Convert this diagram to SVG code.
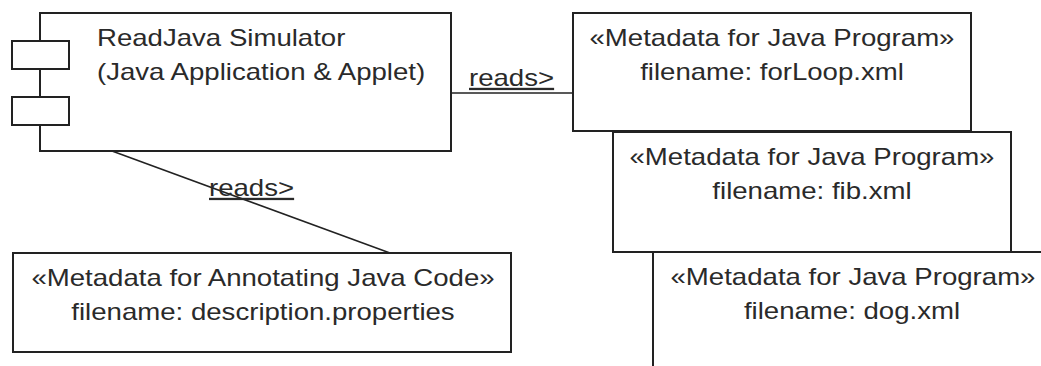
<svg xmlns="http://www.w3.org/2000/svg" width="1041" height="366" viewBox="0 0 1041 366">
<style>
.box{fill:#fff;stroke:#222;stroke-width:2}
.conn{stroke:#222;stroke-width:1.5;fill:none}
.t{font-family:"Liberation Sans",Arial,sans-serif;font-size:23px;fill:#2a2a2a}
.c{text-anchor:middle}
.u{text-decoration:underline}
</style>
<rect width="1041" height="366" fill="#fff"/>
<g id="connectors">
<line class="conn" x1="451" y1="93" x2="573" y2="93"/>
<line class="conn" x1="112" y1="151" x2="390" y2="253"/>
<text class="t u" transform="translate(469,86) scale(1.2,1)">reads&gt;</text>
<text class="t u" transform="translate(209,196) scale(1.2,1)">reads&gt;</text>
</g>
<g id="simulator">
<rect class="box" x="40" y="13" width="411" height="138"/>
<rect class="box" x="12" y="41" width="57" height="28"/>
<rect class="box" x="12" y="97" width="57" height="28"/>
<text class="t" transform="translate(97,46) scale(1.2,1)">ReadJava Simulator</text>
<text class="t" transform="translate(97,80) scale(1.2,1)">(Java Application &amp; Applet)</text>
</g>
<g id="annotation">
<rect class="box" x="13" y="253" width="498" height="99"/>
<text class="t c" transform="translate(263,286) scale(1.2,1)">«Metadata for Annotating Java Code»</text>
<text class="t c" transform="translate(263,320) scale(1.2,1)">filename: description.properties</text>
</g>
<g id="forloop">
<rect class="box" x="573" y="13" width="398" height="118"/>
<text class="t c" transform="translate(772,46) scale(1.2,1)">«Metadata for Java Program»</text>
<text class="t c" transform="translate(772,80) scale(1.2,1)">filename: forLoop.xml</text>
</g>
<g id="fib">
<rect class="box" x="613" y="132" width="398" height="120"/>
<text class="t c" transform="translate(812,165) scale(1.2,1)">«Metadata for Java Program»</text>
<text class="t c" transform="translate(812,199) scale(1.2,1)">filename: fib.xml</text>
</g>
<g id="dog">
<rect class="box" x="653" y="252" width="400" height="130"/>
<text class="t c" transform="translate(853,285) scale(1.2,1)">«Metadata for Java Program»</text>
<text class="t c" transform="translate(852,319) scale(1.2,1)">filename: dog.xml</text>
</g>
</svg>
